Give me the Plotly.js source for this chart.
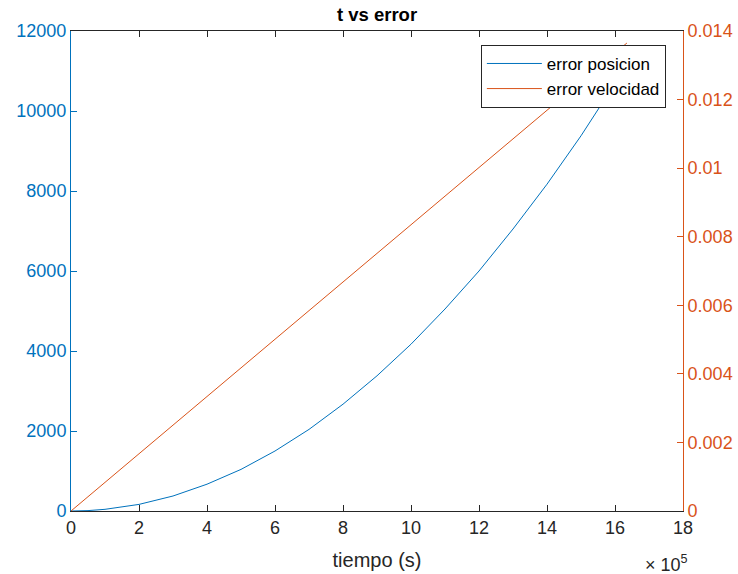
<!DOCTYPE html>
<html>
<head>
<meta charset="utf-8">
<script src="https://cdn.plot.ly/plotly-3.0.1.min.js"></script>
<style>html,body{margin:0;padding:0;background:#fff;}#chart{width:738px;height:574px;}</style>
</head>
<body>
<div id="chart"></div>
<script>
// time in seconds
const tPos = [0, 50000, 100000, 200000, 300000, 400000, 500000, 600000, 700000, 800000, 900000, 1000000, 1100000, 1200000, 1300000, 1400000, 1500000, 1600000, 1635000];
const errPos = [0, 10, 42, 165, 375, 670, 1040, 1500, 2040, 2670, 3380, 4170, 5050, 6000, 7050, 8170, 9380, 10680, 11150];
const tVel = [0, 400000, 800000, 1200000, 1635000];
const errVel = [0, 0.00334, 0.00668, 0.01002, 0.01365];
const xTickVals = [0, 200000, 400000, 600000, 800000, 1000000, 1200000, 1400000, 1600000, 1800000];
const xTickText = ['0', '2', '4', '6', '8', '10', '12', '14', '16', '18'];
const y2TickVals = [0, 0.002, 0.004, 0.006, 0.008, 0.01, 0.012, 0.014];
const y2TickText = ['0', '0.002', '0.004', '0.006', '0.008', '0.01', '0.012', '0.014'];

const blue = '#0072BD', orange = '#D95319', dark = '#262626';
const FONT = 'Liberation Sans, Arial, Helvetica, sans-serif';

const traces = [
  {x: tPos, y: errPos, type: 'scatter', mode: 'lines', name: 'error posicion',
   line: {color: blue, width: 1}, yaxis: 'y'},
  {x: tVel, y: errVel, type: 'scatter', mode: 'lines', name: 'error velocidad',
   line: {color: orange, width: 1}, yaxis: 'y2'}
];

const layout = {
  width: 738, height: 574,
  margin: {l: 71, r: 55, t: 31, b: 63, pad: 0},
  paper_bgcolor: '#fff', plot_bgcolor: '#fff',
  font: {family: FONT, size: 17, color: dark},
  showlegend: true,
  title: {text: '<b>t vs error</b>', font: {family: FONT, size: 18.5, color: '#000'},
          x: 0.5, xref: 'paper', xanchor: 'center', y: 0.975, yref: 'container', yanchor: 'middle'},
  xaxis: {range: [0, 1800000], tickvals: xTickVals, ticktext: xTickText,
          ticks: 'inside', ticklen: 6, tickcolor: dark, tickwidth: 1,
          showline: true, linecolor: dark, linewidth: 1, mirror: 'ticks',
          showgrid: false, zeroline: false,
          tickfont: {family: FONT, size: 18, color: dark},
          title: {text: 'tiempo (s)', font: {family: FONT, size: 20, color: dark}, standoff: 16}},
  yaxis: {range: [0, 12000], dtick: 2000, tickformat: 'd',
          ticks: 'inside', ticklen: 6, tickcolor: blue, tickwidth: 1,
          showline: true, linecolor: blue, linewidth: 1,
          showgrid: false, zeroline: false,
          tickfont: {family: FONT, size: 18, color: blue}},
  yaxis2: {range: [0, 0.014], overlaying: 'y', side: 'right', anchor: 'x',
          tickvals: y2TickVals, ticktext: y2TickText,
          ticks: 'inside', ticklen: 6, tickcolor: orange, tickwidth: 1,
          showline: true, linecolor: orange, linewidth: 1,
          showgrid: false, zeroline: false,
          tickfont: {family: FONT, size: 18, color: orange}},
  legend: {x: 0.972, y: 0.971, xanchor: 'right', yanchor: 'top',
           bgcolor: '#fff', bordercolor: dark, borderwidth: 1,
           font: {family: FONT, size: 17, color: '#000'},
           tracegroupgap: 0, itemwidth: 55},
  annotations: [
    {xref: 'paper', yref: 'paper', x: 1.012, y: -0.11, xanchor: 'right', yanchor: 'middle',
     text: '× 10<sup>5</sup>', showarrow: false, font: {family: FONT, size: 18, color: dark}}
  ]
};

Plotly.newPlot('chart', traces, layout, {displayModeBar: false, staticPlot: true});
</script>
</body>
</html>
